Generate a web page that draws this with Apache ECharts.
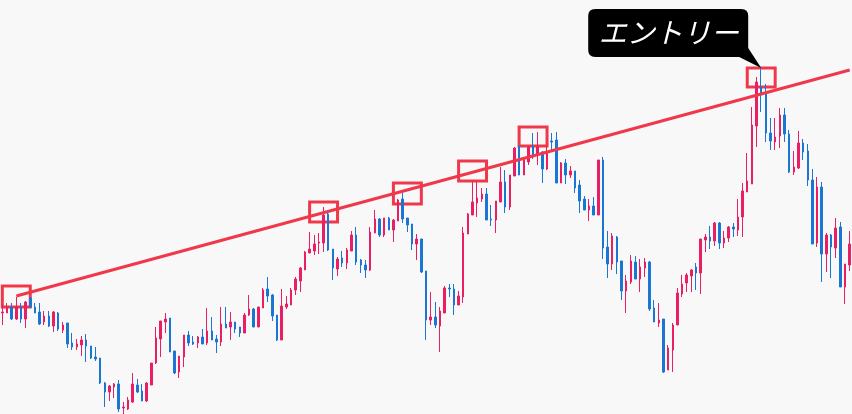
<!DOCTYPE html>
<html>
<head>
<meta charset="utf-8">
<script src="https://cdn.jsdelivr.net/npm/echarts@6/dist/echarts.min.js"></script>
<style>
  html, body { margin: 0; padding: 0; background: #f8f8f8; }
  #main { width: 852px; height: 414px; }
</style>
</head>
<body>
<div id="main"></div>
<script>
// candle values (price units)
var opens = [
  187, 187, 193, 181, 192, 181, 202, 193, 188, 178,
  184, 174, 187, 170, 177, 157, 153, 155, 160, 154,
  143, 142, 117, 108, 113, 116, 92, 91, 98, 115,
  109, 99, 115, 137, 161, 178, 182, 149, 128, 143,
  165, 158, 157, 163, 157, 169, 161, 158, 176, 173,
  178, 173, 167, 185, 191, 173, 192, 211, 205, 185,
  160, 193, 195, 210, 219, 230, 247, 249, 257, 257,
  286, 251, 231, 242, 237, 249, 265, 240, 235, 230,
  267, 281, 265, 282, 270, 279, 301, 282, 276, 256,
  261, 229, 180, 183, 174, 187, 212, 211, 195, 203,
  266, 285, 297, 301, 306, 281, 280, 298, 318, 293,
  324, 354, 325, 338, 354, 345, 348, 331, 359, 360,
  317, 337, 325, 329, 315, 301, 290, 294, 285, 340,
  253, 236, 263, 239, 209, 218, 238, 221, 232, 238,
  192, 177, 181, 130, 150, 175, 206, 217, 224, 233,
  227, 260, 263, 259, 277, 257, 262, 273, 270, 283,
  308, 316, 374, 413, 408, 367, 358, 364, 385, 366,
  328, 332, 357, 349, 320, 257, 313, 246, 265, 252,
  273, 213, 235
];
var closes = [
  188, 192, 181, 193, 181, 198, 193, 187, 176, 184,
  174, 188, 171, 175, 156, 153, 156, 160, 154, 142,
  141, 117, 108, 114, 116, 91, 93, 100, 116, 108,
  99, 117, 137, 162, 179, 181, 148, 127, 144, 165,
  157, 156, 163, 156, 169, 160, 158, 176, 172, 178,
  171, 167, 185, 191, 173, 193, 210, 204, 184, 160,
  194, 196, 210, 221, 232, 248, 251, 256, 258, 285,
  250, 232, 241, 237, 250, 265, 238, 235, 230, 268,
  281, 265, 282, 270, 280, 300, 281, 275, 256, 261,
  228, 180, 183, 175, 189, 212, 211, 195, 204, 267,
  286, 298, 302, 306, 280, 280, 299, 318, 293, 325,
  352, 325, 340, 353, 343, 353, 331, 348, 358, 317,
  337, 325, 329, 312, 299, 290, 294, 285, 340, 252,
  236, 264, 238, 209, 219, 239, 221, 233, 238, 191,
  178, 180, 128, 152, 175, 207, 216, 225, 230, 227,
  261, 263, 259, 277, 257, 262, 273, 271, 283, 309,
  319, 375, 418, 405, 367, 359, 363, 385, 366, 328,
  333, 357, 348, 320, 256, 313, 246, 265, 253, 272,
  213, 236, 256
];
var lows = [
  175, 187, 180, 180, 177, 172, 192, 187, 175, 175,
  173, 168, 169, 167, 152, 150, 150, 144, 138, 141,
  139, 116, 93, 99, 102, 88, 86, 90, 97, 107,
  99, 98, 115, 136, 143, 167, 148, 126, 122, 133,
  154, 155, 152, 156, 155, 160, 147, 154, 172, 160,
  167, 163, 167, 184, 173, 173, 192, 198, 179, 159,
  160, 191, 195, 205, 208, 230, 247, 245, 246, 248,
  249, 220, 224, 233, 231, 249, 235, 227, 222, 229,
  267, 263, 263, 270, 258, 279, 277, 268, 250, 240,
  227, 160, 175, 172, 148, 187, 203, 185, 195, 197,
  266, 285, 283, 298, 280, 274, 267, 298, 287, 290,
  324, 325, 325, 335, 341, 335, 317, 330, 350, 317,
  317, 316, 322, 307, 287, 290, 279, 285, 285, 241,
  222, 230, 226, 200, 187, 216, 221, 208, 223, 189,
  178, 173, 127, 130, 128, 175, 203, 208, 208, 210,
  206, 248, 251, 254, 251, 252, 258, 263, 264, 263,
  308, 316, 353, 388, 358, 350, 350, 352, 358, 327,
  325, 331, 340, 314, 256, 253, 218, 228, 222, 242,
  213, 196, 229
];
var highs = [
  195, 197, 197, 203, 197, 199, 203, 197, 197, 189,
  189, 189, 188, 178, 177, 167, 161, 164, 166, 154,
  153, 142, 118, 115, 117, 120, 98, 103, 127, 121,
  116, 118, 137, 173, 179, 187, 182, 149, 144, 165,
  169, 164, 164, 171, 192, 183, 165, 193, 193, 188,
  178, 173, 187, 205, 192, 193, 212, 223, 206, 185,
  211, 204, 212, 223, 233, 249, 268, 265, 267, 293,
  287, 251, 243, 249, 252, 269, 273, 241, 240, 273,
  290, 282, 282, 283, 281, 301, 307, 282, 276, 266,
  261, 229, 208, 198, 193, 214, 216, 216, 209, 273,
  287, 319, 318, 312, 312, 295, 299, 333, 330, 325,
  353, 354, 342, 354, 367, 368, 349, 354, 367, 368,
  338, 341, 334, 329, 320, 304, 301, 303, 340, 343,
  269, 267, 264, 239, 225, 245, 244, 241, 242, 239,
  200, 197, 181, 155, 177, 212, 225, 227, 231, 237,
  261, 266, 274, 278, 278, 269, 274, 277, 301, 317,
  347, 393, 423, 432, 416, 382, 382, 392, 392, 370,
  349, 369, 361, 356, 331, 323, 318, 267, 266, 282,
  278, 236, 269
];
var categories = opens.map(function (v, i) { return String(i + 1); });

// trend line (start / end candle and price)
var trendFrom = [3, 204];
var trendTo = [182, 430];

// touch boxes: first candle, last candle, top price, bottom price
var boxFrom = [0, 66, 84, 98, 111, 160];
var boxTo = [6, 72, 90, 104, 117, 166];
var boxTop = [214, 298, 317, 339, 373, 432];
var boxBottom = [193, 278, 296, 319, 354, 413];

// callout anchor
var entryIndex = 163;
var entryPrice = 432;
var entryLabel = 'エントリー';

var upColor = '#e91e63';
var downColor = '#1976d2';
var lineRed = '#f0384b';

var candles = opens.map(function (o, i) {
    return [o, closes[i], lows[i], highs[i]];
});
var boxes = boxFrom.map(function (b, i) {
    return [{coord: [boxFrom[i], boxTop[i]]}, {coord: [boxTo[i], boxBottom[i]]}];
});

var chartDom = document.getElementById('main');
var myChart = echarts.init(chartDom);
var option;
option = {
    backgroundColor: '#f8f8f8',
    animation: false,
    grid: {left: 0, right: 0, top: 0, bottom: 0},
    xAxis: {
        type: 'category',
        data: categories,
        boundaryGap: true,
        show: false
    },
    yAxis: {
        type: 'value',
        min: 86,
        max: 500,
        show: false,
        splitLine: {show: false}
    },
    series: [
        {
            type: 'candlestick',
            data: candles,
            barWidth: 2,
            itemStyle: {
                color: upColor,
                color0: downColor,
                borderColor: upColor,
                borderColor0: downColor,
                borderWidth: 1
            },
            markArea: {
                silent: true,
                itemStyle: {color: 'rgba(0,0,0,0)', borderColor: lineRed, borderWidth: 3},
                label: {show: false},
                data: boxes
            },
            markLine: {
                silent: true,
                symbol: 'none',
                label: {show: false},
                lineStyle: {color: lineRed, width: 3, type: 'solid'},
                data: [[{coord: trendFrom}, {coord: trendTo}]]
            },
            markPoint: {
                silent: true,
                symbol: 'path://M7,0 H153 Q160,0 160,7 V39 L173,59 L151,48 H7 Q0,48 0,41 V7 Q0,0 7,0 Z',
                symbolSize: [173, 59],
                symbolOffset: [-86.5, -29.5],
                itemStyle: {color: '#000'},
                label: {
                    show: true,
                    position: 'inside',
                    offset: [-6, -6],
                    formatter: entryLabel,
                    color: '#fff',
                    fontSize: 28,
                    fontStyle: 'italic',
                    fontFamily: 'Noto Sans CJK JP'
                },
                data: [{coord: [entryIndex, entryPrice]}]
            }
        }
    ]
};
option && myChart.setOption(option);
</script>
</body>
</html>
